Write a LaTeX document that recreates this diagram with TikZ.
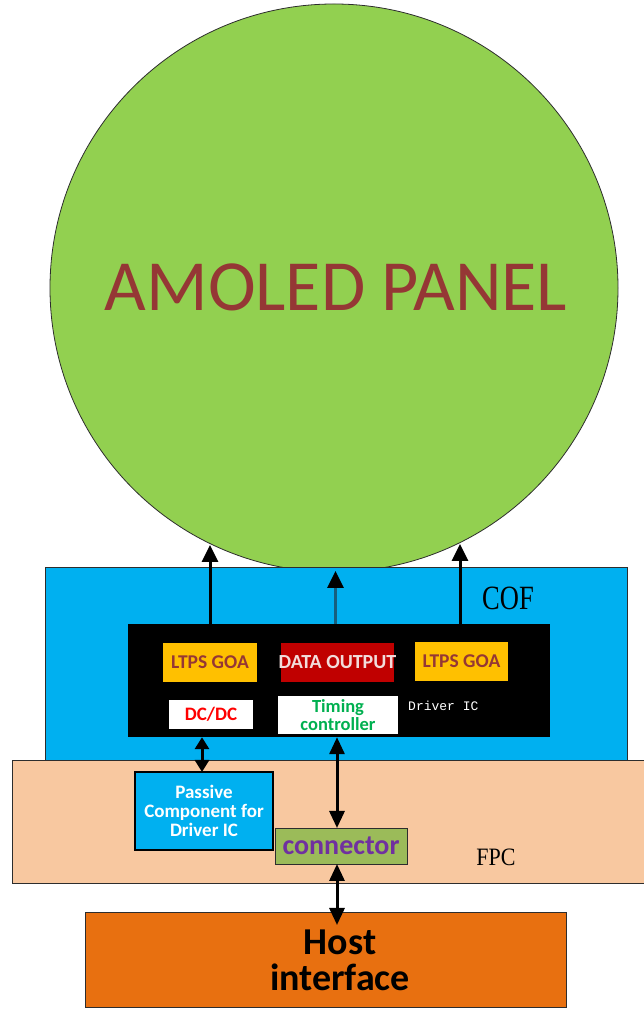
\documentclass[tikz,border=0pt]{standalone}
\usepackage{fontspec}
\setmainfont{Carlito}
\setmonofont{Liberation Mono}
\newfontfamily\labelserif{Liberation Serif}
\usetikzlibrary{arrows.meta}

\begin{document}
\begin{tikzpicture}[x=1pt,y=1pt,
  blk/.style={draw=edgeColor,line width=0.8pt,inner sep=0pt,outer sep=0pt},
  chip/.style={inner sep=0pt,outer sep=0pt,align=center},
  sig/.style={line width=3pt,-{Triangle[length=17pt,width=16pt,color=black]}},
  bus/.style={line width=3pt,{Triangle[length=17pt,width=15pt]}-{Triangle[length=17pt,width=15pt]}},
  shortbus/.style={line width=3pt,{Triangle[length=12pt,width=14pt]}-{Triangle[length=12pt,width=14pt]}}]
\definecolor{edgeColor}{RGB}{45,45,45}
\definecolor{panelGreen}{RGB}{146,208,80}
\definecolor{panelText}{RGB}{149,55,53}
\definecolor{cofBlue}{RGB}{0,176,240}
\definecolor{fpcPeach}{RGB}{248,200,160}
\definecolor{goaYellow}{RGB}{255,192,0}
\definecolor{dataRed}{RGB}{192,0,0}
\definecolor{dataText}{RGB}{242,220,219}
\definecolor{tconGreen}{RGB}{0,176,80}
\definecolor{connGreen}{RGB}{155,187,89}
\definecolor{connPurple}{RGB}{112,48,160}
\definecolor{hostOrange}{RGB}{232,112,16}
\definecolor{dataTeal}{RGB}{23,95,125}
\path[use as bounding box,fill=white] (0,0) rectangle (644,1010);

\node[circle,draw=edgeColor,line width=0.8pt,fill=panelGreen,minimum size=568pt,inner sep=0pt] (panel) at (334,722) {};
\node[text=panelText,font=\fontsize{72}{74}\selectfont] (paneltxt) at (336,723) {AMOLED PANEL};

\node[blk,fill=cofBlue,minimum width=582pt,minimum height=193pt] (cof) at (336,346.5) {};
\node[blk,fill=fpcPeach,minimum width=640pt,minimum height=123pt] (fpc) at (332,188.5) {};
\node[fill=black,minimum width=422pt,minimum height=113pt,inner sep=0pt] (ic) at (339,329.5) {};

\node[font=\labelserif\fontsize{34}{36}\selectfont,xscale=0.78] (coftxt) at (508,412) {COF};
\node[font=\labelserif\fontsize{25}{27}\selectfont,xscale=0.88] (fpctxt) at (496,153) {FPC};

\node[chip,fill=goaYellow,text=panelText,minimum width=94pt,minimum height=39pt,font=\bfseries\fontsize{19.5}{21}\selectfont] (goaL) at (210,347.5) {LTPS GOA};
\node[chip,fill=dataRed,minimum width=113pt,minimum height=39pt] (dataout) at (337.5,347.5) {};
\node[chip,text=dataText,font=\bfseries\fontsize{20}{22}\selectfont] (dataouttxt) at (dataout) {DATA OUTPUT};
\node[chip,fill=goaYellow,text=panelText,minimum width=93pt,minimum height=39pt,font=\bfseries\fontsize{19.5}{21}\selectfont] (goaR) at (461.5,348.5) {LTPS GOA};
\node[chip,fill=white,text=red,minimum width=84pt,minimum height=29pt,font=\bfseries\fontsize{19}{20}\selectfont] (dcdc) at (211,295.5) {DC/DC};
\node[chip,fill=white,text=tconGreen,minimum width=120pt,minimum height=38pt,font=\bfseries\fontsize{18.5}{18}\selectfont] (tcon) at (338,295) {Timing\\controller};
\node[anchor=west,inner sep=0pt,text=white,font=\ttfamily\fontsize{13}{15}\selectfont] (drvtxt) at (408,304) {Driver IC};

\node[blk,draw=black,line width=1.2pt,fill=cofBlue,text=white,align=center,minimum width=138pt,minimum height=78pt,font=\bfseries\fontsize{19}{19}\selectfont] (passive) at (204,199) {Passive\\Component for\\Driver IC};
\node[blk,fill=connGreen,text=connPurple,minimum width=132pt,minimum height=36pt,font=\bfseries\fontsize{28}{30}\selectfont] (conn) at (341,164) {connector};

\node[blk,fill=hostOrange,minimum width=481pt,minimum height=95pt] (host) at (325.5,50.5) {};
\node[chip,font=\bfseries\fontsize{38}{36}\selectfont] (hosttxt) at (340,50) {Host\\interface};

\coordinate (tipL) at (210,465);
\coordinate (tipR) at (460,466);
\draw[sig] (ic.north -| tipL) -- (tipL);
\draw[sig] (ic.north -| tipR) -- (tipR);
\draw[sig,draw=dataTeal] ([xshift=-2pt]ic.north -| dataout) -- ([xshift=-2pt,yshift=-4pt]cof.north -| dataout);

\draw[shortbus] ([xshift=-2pt]passive.north) -- ([xshift=-2pt]passive.north |- ic.south);
\draw[bus] ([xshift=-4pt]conn.north) -- ([xshift=-4pt]conn.north |- ic.south);
\draw[bus] ([xshift=-4pt]conn.south) -- ([xshift=-4pt,yshift=-13pt]conn.south |- host.north);
\end{tikzpicture}
\end{document}
